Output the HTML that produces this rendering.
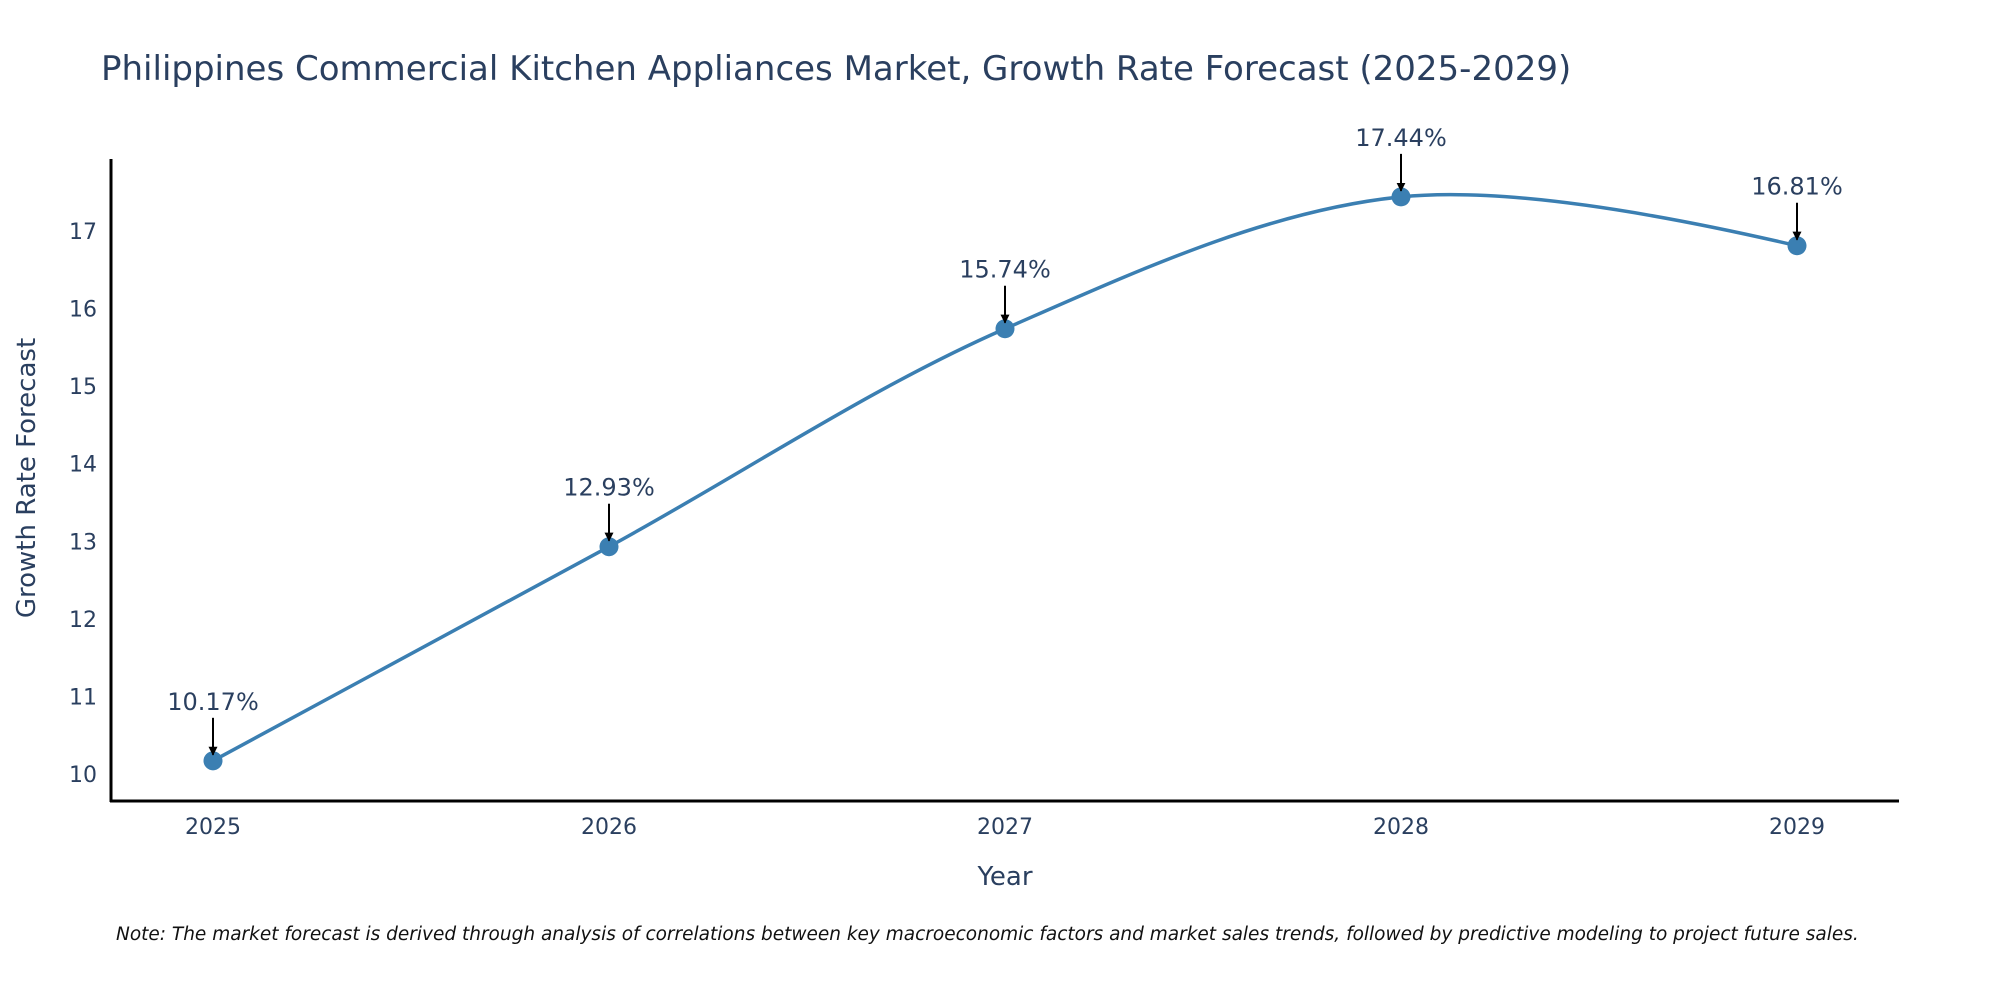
<!DOCTYPE html>
<html><head><meta charset="utf-8"><style>
html,body{margin:0;padding:0;background:#fff;overflow:hidden;}
svg text{font-family:"DejaVu Sans","Liberation Sans",sans-serif;fill:#2a3f5f;}
</style></head><body>
<svg id="chart" width="2000" height="1000" xmlns="http://www.w3.org/2000/svg">
<defs><marker id="ah" viewBox="0 0 10 10" refX="9" refY="5" markerWidth="4.5" markerHeight="4.5" orient="auto"><path d="M0,0 L10,5 L0,10 z" fill="#000"/></marker></defs>
<text x="101" y="80" font-size="34">Philippines Commercial Kitchen Appliances Market, Growth Rate Forecast (2025-2029)</text>
<g id="yticks"></g>
<g id="xticks"></g>
<line x1="111" y1="159" x2="111" y2="802" stroke="#000" stroke-width="3"/>
<line x1="110" y1="801" x2="1899" y2="801" stroke="#000" stroke-width="3"/>
<path id="line" fill="none" stroke="#3b7fb2" stroke-width="3.5"/>
<g id="points"></g>
<g id="annots"></g>
<text x="1005" y="885" font-size="26" text-anchor="middle">Year</text>
<text x="0" y="0" font-size="26" text-anchor="middle" transform="translate(35,478) rotate(-90)">Growth Rate Forecast</text>
<text x="116" y="940" font-size="18.5" font-style="italic" style="fill:#111">Note: The market forecast is derived through analysis of correlations between key macroeconomic factors and market sales trends, followed by predictive modeling to project future sales.</text>
</svg>
<script>
const categories = ["2025","2026","2027","2028","2029"];
const values = [10.17, 12.93, 15.74, 17.44, 16.81];
const yTicks = [10, 11, 12, 13, 14, 15, 16, 17];

const NS = "http://www.w3.org/2000/svg";
const x0 = 213, x1 = 1797;
function xs(i){ return x0 + i*(x1-x0)/(categories.length-1); }
function ys(v){ return 774 - (v-10)*77.57; }
function mk(tag, attrs, parent){ const e=document.createElementNS(NS,tag); for(const k in attrs) e.setAttribute(k,attrs[k]); parent.appendChild(e); return e; }

const yg=document.getElementById('yticks');
yTicks.forEach(t=>{
  const e=mk('text',{x:97,y:ys(t)+8,'font-size':22,'text-anchor':'end'},yg);
  
  
  e.textContent=t;
});
const xg=document.getElementById('xticks');
categories.forEach((c,i)=>{
  const e=mk('text',{x:xs(i),y:834,'font-size':22,'text-anchor':'middle'},xg);
  
  
  e.textContent=c;
});

const pts=values.map((v,i)=>[xs(i),ys(v)]);
function tangent(p0,p1,p2,s){
  const d1x=p0[0]-p1[0],d1y=p0[1]-p1[1],d2x=p2[0]-p1[0],d2y=p2[1]-p1[1];
  const d1a=Math.pow(d1x*d1x+d1y*d1y,0.25),d2a=Math.pow(d2x*d2x+d2y*d2y,0.25);
  const nx=(d2a*d2a*d1x-d1a*d1a*d2x)*s,ny=(d2a*d2a*d1y-d1a*d1a*d2y)*s;
  const de1=3*d2a*(d1a+d2a),de2=3*d1a*(d1a+d2a);
  return [[p1[0]+nx/de1,p1[1]+ny/de1],[p1[0]-nx/de2,p1[1]-ny/de2]];
}
const tg=[];
for(let i=1;i<pts.length-1;i++) tg.push(tangent(pts[i-1],pts[i],pts[i+1],1));
let d='M'+pts[0]+'Q'+tg[0][0]+' '+pts[1];
for(let i=2;i<pts.length-1;i++) d+='C'+tg[i-2][1]+' '+tg[i-1][0]+' '+pts[i];
d+='Q'+tg[pts.length-3][1]+' '+pts[pts.length-1];
document.getElementById('line').setAttribute('d',d);

const pg=document.getElementById('points'), ag=document.getElementById('annots');
pts.forEach((p,i)=>{
  const c=mk('circle',{cx:p[0],cy:p[1],r:9.5,fill:'#3b7fb2'},pg);
  
  
  const a=mk('line',{x1:p[0],y1:p[1]-43,x2:p[0],y2:p[1]-6,stroke:'#000','stroke-width':2,'marker-end':'url(#ah)'},ag);
  
  
  const t=mk('text',{x:p[0],y:p[1]-51,'font-size':24,'text-anchor':'middle'},ag);
  
  
  t.textContent=values[i].toFixed(2)+'%';
});
</script>
</body></html>
